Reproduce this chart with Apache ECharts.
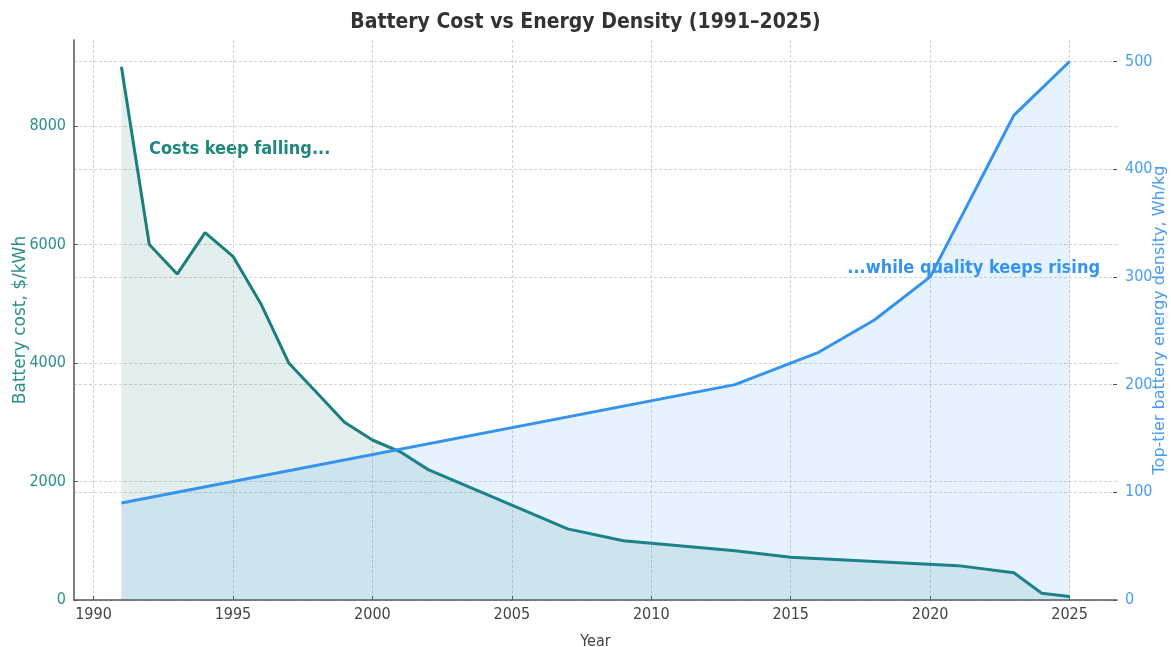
<!DOCTYPE html>
<html>
<head>
<meta charset="utf-8">
<title>Battery Cost vs Energy Density</title>
<script src="https://cdn.jsdelivr.net/npm/echarts@6/dist/echarts.min.js"></script>
<style>
  html, body { margin: 0; padding: 0; background: #fff; }
  #chart { width: 1171px; height: 647px; }
</style>
</head>
<body>
<div id="chart"></div>
<script>
// battery cost, $/kWh
const costYears = [1991, 1992, 1993, 1994, 1995, 1996, 1997, 1998, 1999, 2000, 2001, 2002, 2005, 2007, 2009, 2013, 2015, 2021, 2023, 2024, 2025];
const costValues = [9000, 6000, 5500, 6200, 5800, 5000, 4000, 3500, 3000, 2700, 2500, 2200, 1600, 1200, 1000, 830, 720, 580, 460, 115, 60];

// top-tier energy density, Wh/kg
const densityYears = [1991, 2013, 2015, 2016, 2018, 2020, 2021, 2022, 2023, 2025];
const densityValues = [90, 200, 220, 230, 260, 300, 350, 400, 450, 500];

const teal = "#1b7f7a";
const blue = "#3593ee";
const font = "'DejaVu Sans Condensed', 'DejaVu Sans', sans-serif";

const chart = echarts.init(document.getElementById("chart"));

const gridLine = { show: true, lineStyle: { color: "#d2d2d2", type: [3, 2], width: 1 } };
const plain = v => String(v); // no thousands separators

chart.setOption({
  animation: false,
  textStyle: { fontFamily: font },
  title: {
    text: "Battery Cost vs Energy Density (1991\u20132025)",
    left: "center",
    top: 7,
    textStyle: { fontSize: 21, fontWeight: "bold", color: "#333", fontFamily: font }
  },
  grid: { left: 74, right: 54, top: 40, bottom: 47, outerBoundsMode: "none", containLabel: false },
  xAxis: {
    type: "value",
    min: 1989.3,
    max: 2026.7,
    splitNumber: 7,
    name: "Year",
    nameLocation: "middle",
    nameGap: 34,
    nameTextStyle: { fontSize: 16, color: "#444", fontFamily: font },
    axisLine: { lineStyle: { color: "#555", width: 1.5 } },
    axisTick: { inside: true, length: 4, lineStyle: { color: "#555" } },
    axisLabel: { color: "#444", fontSize: 16, margin: 7, formatter: plain, showMinLabel: false, showMaxLabel: false, fontFamily: font },
    splitLine: Object.assign({ showMinLine: false, showMaxLine: false }, gridLine)
  },
  yAxis: [
    {
      type: "value",
      min: 0,
      max: 9450,
      interval: 2000,
      name: "Battery cost, $/kWh",
      nameLocation: "middle",
      nameGap: 45,
      nameMoveOverlap: false,
      nameTextStyle: { fontSize: 17, color: "#2a8f89", fontFamily: "'DejaVu Sans', sans-serif" },
      axisLine: { show: true, lineStyle: { color: "#555", width: 1.5 } },
      axisTick: { show: true, inside: true, length: 4, lineStyle: { color: "#555" } },
      axisLabel: { color: "#2a8f89", fontSize: 16, margin: 8, formatter: plain, showMaxLabel: false, fontFamily: font },
      splitLine: Object.assign({ showMaxLine: false }, gridLine)
    },
    {
      type: "value",
      min: 0,
      max: 520,
      interval: 100,
      position: "right",
      name: "Top-tier battery energy density, Wh/kg",
      nameLocation: "middle",
      nameGap: 35,
      nameRotate: 90,
      nameMoveOverlap: false,
      nameTextStyle: { fontSize: 16, color: "#4a9cf0", fontFamily: "'DejaVu Sans', sans-serif" },
      axisLine: { show: false },
      axisTick: { show: true, inside: true, length: 4, lineStyle: { color: "#555" } },
      axisLabel: { color: "#4a9cf0", fontSize: 16, margin: 8, formatter: plain, showMaxLabel: false, fontFamily: font },
      splitLine: Object.assign({ showMaxLine: false }, gridLine)
    }
  ],
  series: [
    {
      name: "Battery cost",
      type: "line",
      yAxisIndex: 0,
      symbol: "none",
      data: costYears.map((y, i) => [y, costValues[i]]),
      lineStyle: { color: teal, width: 3 },
      areaStyle: { color: "rgba(27,127,122,0.12)", opacity: 1 },
      z: 3
    },
    {
      name: "Energy density",
      type: "line",
      yAxisIndex: 1,
      symbol: "none",
      data: densityYears.map((y, i) => [y, densityValues[i]]),
      lineStyle: { color: blue, width: 3 },
      areaStyle: { color: "rgba(53,147,238,0.12)", opacity: 1 },
      z: 4
    }
  ],
  graphic: [
    {
      type: "text",
      left: 149,
      top: 140,
      style: { text: "Costs keep falling...", fill: "#1e8780", font: "bold 18px " + font }
    },
    {
      type: "text",
      right: 71,
      top: 259,
      style: { text: "...while quality keeps rising", fill: blue, font: "bold 18px " + font }
    }
  ]
});
</script>
</body>
</html>
